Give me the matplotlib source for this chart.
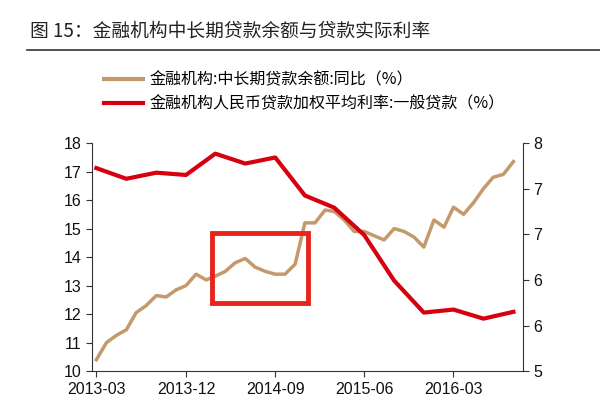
import matplotlib
matplotlib.use("Agg")
import matplotlib.pyplot as plt
import pandas as pd
from matplotlib.patches import Rectangle
from matplotlib.lines import Line2D

plt.rcParams['font.family'] = ['Noto Sans CJK SC', 'DejaVu Sans']

tan_values = [10.4, 11.0, 11.25, 11.45, 12.05, 12.3, 12.65, 12.6, 12.85, 13.0,
              13.4, 13.2, 13.33, 13.5, 13.8, 13.95, 13.65, 13.5, 13.4, 13.4,
              13.75, 15.2, 15.2, 15.65, 15.6, 15.3, 14.9, 14.9, 14.75, 14.6,
              15.0, 14.9, 14.7, 14.35, 15.3, 15.05, 15.75, 15.5, 15.9, 16.4,
              16.8, 16.9, 17.35]
tan_dates = pd.date_range('2013-03-01', periods=len(tan_values), freq='MS')
red_values = [7.67, 7.53, 7.61, 7.58, 7.86, 7.73, 7.81, 7.31, 7.15, 6.79,
              6.19, 5.77, 5.81, 5.69, 5.78]
red_dates = pd.date_range('2013-03-01', periods=len(red_values), freq='3MS')
tick_labels = ['2013-03', '2013-12', '2014-09', '2015-06', '2016-03']
tick_dates = pd.to_datetime(tick_labels)
tan_label = '金融机构:中长期贷款余额:同比（%）'
red_label = '金融机构人民币贷款加权平均利率:一般贷款（%）'
title = '图 15：金融机构中长期贷款余额与贷款实际利率'

fig = plt.figure(figsize=(6, 4.11), dpi=100)
ax = fig.add_axes([0.153, 0.097, 0.719, 0.555])
ax2 = ax.twinx()
tan_c = '#c49a6c'
red_c = '#d7000f'
ax.plot(tan_dates, tan_values, color=tan_c, lw=2.5, zorder=2)
ax2.plot(red_dates, red_values, color=red_c, lw=3)
ax.set_ylim(10, 18)
ax.set_yticks(range(10, 19))
ax2.set_ylim(5, 8)
ax2.set_yticks([8, 7.4, 6.8, 6.2, 5.6, 5])
ax2.set_yticklabels(['8', '7', '7', '6', '6', '5'])
ax.set_xlim(pd.Timestamp('2013-02-15'), pd.Timestamp('2016-10-01'))
ax.set_xticks(tick_dates)
ax.set_xticklabels(tick_labels)
for a in (ax, ax2):
    a.spines['top'].set_visible(False)
    a.tick_params(labelsize=11.5, length=4, color='#333333', labelcolor='#111111')
    for lab in a.get_xticklabels() + a.get_yticklabels():
        lab.set_family('Liberation Sans')
ax2.spines['left'].set_visible(False)
ax.spines['right'].set_visible(False)
for s in ['left', 'bottom']:
    ax.spines[s].set_color('#333333')
ax2.spines['right'].set_color('#333333')
ax2.spines['bottom'].set_visible(False)

ax2.add_patch(Rectangle((0.278, 0.298), 0.223, 0.307, transform=ax2.transAxes,
                        fill=False, edgecolor='#e8231a', lw=3.5, zorder=5))

fig.text(0.05, 0.925, title, fontsize=13.5, color='#222222', va='center')
fig.add_artist(Line2D([0.045, 1.0], [0.878, 0.878], color='#333333', lw=1.2))
handles = [Line2D([], [], color=tan_c, lw=3), Line2D([], [], color=red_c, lw=3)]
fig.legend(handles, [tan_label, red_label], loc='upper left',
           bbox_to_anchor=(0.15, 0.862), frameon=False, fontsize=11.5,
           handlelength=2.4, labelspacing=0.45, handletextpad=0.4)
fig.savefig('out.png', dpi=100)
